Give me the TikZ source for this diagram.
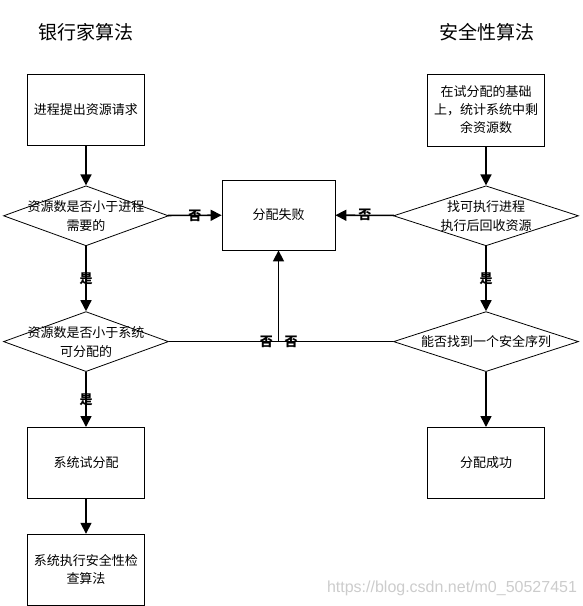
\documentclass[tikz,border=0pt]{standalone}
\usepackage{fontspec}
\setmainfont{Noto Sans CJK SC}
\newfontfamily\wmfont{Liberation Sans}
\usetikzlibrary{arrows.meta,positioning,shapes.geometric,calc}

\begin{document}
\begin{tikzpicture}[
    x=1pt,y=-1pt,
    node distance=39pt,
    box/.style={draw,line width=0.8pt,minimum width=117pt,
                minimum height=71pt,align=center,
                font=\fontsize{13}{18}\selectfont},
    decision/.style={diamond,draw,line width=0.8pt,aspect=2.75,
                inner sep=-30pt,minimum width=165pt,minimum height=60pt,
                align=center,font=\fontsize{13}{19}\selectfont},
    link/.style={line width=1.6pt,-{Triangle[length=11pt,width=11pt]}},
    tag/.style={font=\fontsize{13}{13}\selectfont\bfseries}
  ]
    \useasboundingbox (0,0) rectangle (583,606);
    \node[font=\fontsize{19}{19}\selectfont] (bankTitle) at (86,32) {银行家算法};
    \node[font=\fontsize{19}{19}\selectfont] (safeTitle) at (487,32) {安全性算法};
    % banker's column
    \node[box] (req) at (86,110) {进程提出资源请求};
    \node[decision,below=39.5pt of req] (need) {资源数是否小于进程\\需要的};
    \node[decision,below=65pt of need] (avail) {资源数是否小于系统\\可分配的};
    \node[box,below=55pt of avail] (trial) {系统试分配};
    \node[box,below=35pt of trial] (check) {系统执行安全性检\\查算法};
    \node[box,minimum width=113pt,minimum height=70pt] (fail) at (278.5,215) {分配失败};
    % safety column
    \node[box,minimum height=72pt] (base) at (486,110) {在试分配的基础\\上，统计系统中剩\\余资源数};
    \node[decision,minimum width=185pt,below=39pt of base] (find) {找可执行进程\\执行后回收资源};
    \node[decision,minimum width=185pt,below=65pt of find] (seq) {能否找到一个安全序列};
    \node[box,below=55pt of seq] (success) {分配成功};
    \draw[link] (req) -- (need);
    \draw[link] (need) -- node[tag]{否} (fail);
    \draw[link] (need) -- node[tag]{是} (avail);
    \draw[link] (avail) -- node[tag]{是} (trial);
    \draw[link] (trial) -- (check);
    \draw[link] (base) -- (find);
    \draw[link] (find) -- node[tag]{否} (fail);
    \draw[link] (find) -- node[tag]{是} (seq);
    \draw[link] (seq) -- (success);
    \coordinate (join) at (fail.south |- avail.east);
    \draw[line width=1.6pt] (avail.east) -- node[tag,pos=0.89]{否} (join);
    \draw[line width=1.6pt] (seq.west) -- node[tag,pos=0.89]{否} (join);
    \draw[link] (join) -- (fail);
    \node[font=\wmfont\fontsize{16}{16}\selectfont,text=gray!40] (wm) at (452,588)
          {https://blog.csdn.net/m0\_50527451};
  \end{tikzpicture}
\end{document}
